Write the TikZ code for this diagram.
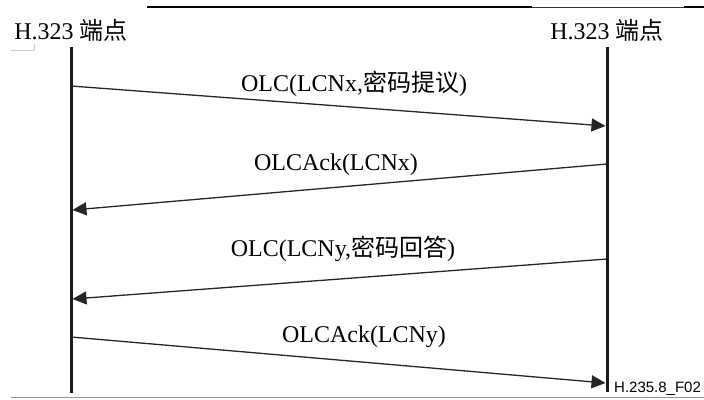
\documentclass[tikz,border=0pt]{standalone}
\usepackage{fontspec}
\setmainfont{Liberation Serif}
\newfontfamily\cjk{Noto Sans CJK SC}
\newfontfamily\figfont{Liberation Sans}
\usepackage{tikz}
\usetikzlibrary{arrows.meta}
\usetikzlibrary{positioning}

\tikzset{
  lifeline/.style={line width=3pt,color=black!90},
  msg/.style={->,line width=1.3pt,color=black!85},
  msglabel/.style={font=\fontsize{24}{28}\selectfont,inner sep=0pt},
}

\begin{document}
\begin{tikzpicture}[x=1pt,y=-1pt,>={Triangle[length=14pt,width=13pt]}]
\def\xl{71}
\def\xr{607}
\def\xa{605.5}

\useasboundingbox (0,0) rectangle (704,399);

%frame
\draw[line width=2pt,color=black] (147,7) -- (532,7);
\draw[line width=1pt,color=black!80] (532,7) -- (684,7);
\draw[line width=2pt,color=black] (684,7) -- (704,7);
\draw[line width=1.5pt,color=black!40] (11,397.5) -- (704,397.5);
\draw[line width=1pt,color=black!20] (11,50.5) -- (34,50.5) -- (34,44);

%endpoints
\node[msglabel] (epA) at (\xl,30) {H.323 {\cjk 端点}};
\node[msglabel] (epB) at (\xr,30) {H.323 {\cjk 端点}};

%lifelines
\coordinate (ltop) at (\xl,47);
\coordinate (lbot) at (\xl,393);
\coordinate (rtop) at (\xr,47);
\coordinate (rbot) at (\xr,392);
\draw[lifeline] (ltop) -- (lbot);
\draw[lifeline] (rtop) -- (rbot);

%messages
\coordinate (m1a) at (\xl,86);
\coordinate (m1b) at (\xa,126);
\coordinate (m2a) at (\xr,164);
\coordinate (m2b) at (72.5,210);
\coordinate (m3a) at (\xr,259);
\coordinate (m3b) at (72.5,299);
\coordinate (m4a) at (\xl,337);
\coordinate (m4b) at (\xa,383);

\draw[msg] (m1a) -- (m1b);
\draw[msg] (m2a) -- (m2b);
\draw[msg] (m3a) -- (m3b);
\draw[msg] (m4a) -- (m4b);

\node[msglabel] (olcx) at (354,84) {OLC(LCNx,{\cjk 密码提议})};
\node[msglabel] (ackx) at (336,165) {OLCAck(LCNx)};
\node[msglabel] (olcy) at (343,249) {OLC(LCNy,{\cjk 密码回答})};
\node[msglabel] (acky) at (364,337) {OLCAck(LCNy)};

%figure tag
\node[anchor=base west,inner sep=0pt,font=\figfont\fontsize{15}{17}\selectfont] (tag) at (614,392) {H.235.8\_F02};

\end{tikzpicture}
\end{document}
